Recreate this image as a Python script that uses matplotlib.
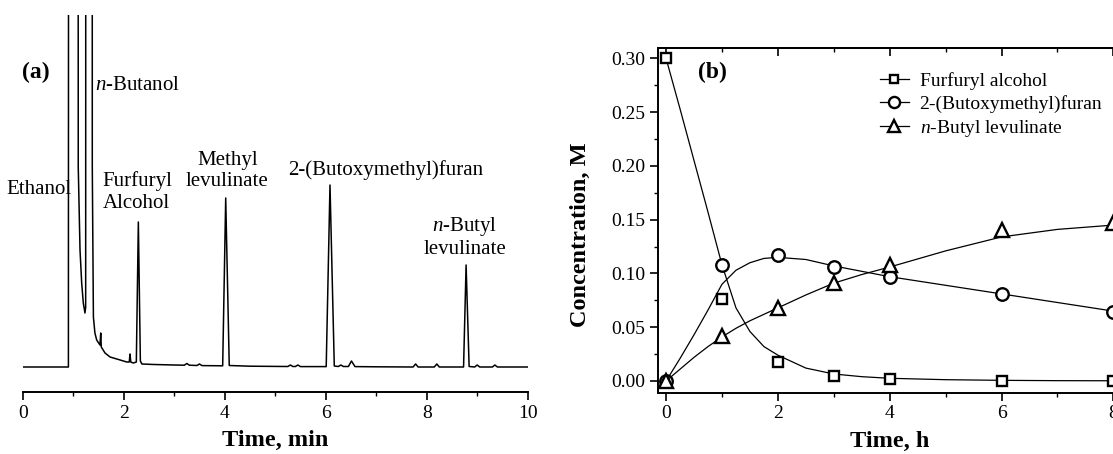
import numpy as np
import matplotlib
matplotlib.use('Agg')
import matplotlib.pyplot as plt
from matplotlib.lines import Line2D

plt.rcParams['font.family'] = ['Liberation Serif', 'Noto Sans CJK SC']
plt.rcParams['mathtext.fontset'] = 'custom'
plt.rcParams['mathtext.rm'] = 'Liberation Serif'
plt.rcParams['mathtext.it'] = 'Liberation Serif:italic'

#chromatogram trace (time in min, signal in arbitrary units)
gc_time = [0.0, 0.905, 0.915, 1.09, 1.10, 1.135, 1.168, 1.20, 1.233, 1.247, 1.255,
           1.372, 1.378, 1.40, 1.43, 1.465, 1.53, 1.545, 1.556, 1.63, 1.73, 1.93,
           2.06, 2.11, 2.125, 2.14, 2.19, 2.25, 2.29, 2.33, 2.36, 2.6, 3.0, 3.2,
           3.25, 3.3, 3.45, 3.5, 3.55, 3.96, 4.02, 4.09, 4.5, 5.25, 5.3, 5.35, 5.4,
           5.45, 5.5, 6.01, 6.085, 6.17, 6.25, 6.3, 6.35, 6.45, 6.51, 6.58, 7.0,
           7.73, 7.78, 7.83, 8.15, 8.2, 8.25, 8.73, 8.78, 8.84, 8.95, 9.0, 9.05,
           9.3, 9.35, 9.4, 10.0]
gc_signal = [0, 0, 2000, 2000, 200, 117, 84, 64, 54, 60, 2000,
             2000, 200, 50, 34, 27, 22, 34, 20, 14, 10, 7,
             5, 5, 13, 5, 4, 5, 145, 6, 3, 2.5, 2, 1.8,
             3.5, 1.8, 1.5, 3, 1.4, 1.2, 169, 1.5, 0.8, 0.5, 2, 0.5, 0.5,
             2, 0.4, 0.4, 182, 1, 0.5, 2, 0.5, 0.5, 6, 0.4, 0.2,
             0, 3, 0, 0, 3, 0, 0, 102, 0.5, 0, 2, 0,
             0, 2, 0, 0]

#peak labels: text, time, signal height of label centre
peak_text = ['Ethanol', '$n$-Butanol', 'Furfuryl\nAlcohol', 'Methyl\nlevulinate',
             '2-(Butoxymethyl)furan', '$n$-Butyl\nlevulinate']
peak_x = [0.33, 1.43, 2.26, 4.05, 7.19, 8.75]
peak_y = [177, 282, 175, 196, 197, 130]

#kinetics data (time in h, concentration in M)
t_exp = [0, 1, 2, 3, 4, 6, 8]
fa_exp = [0.300, 0.0765, 0.0175, 0.0045, 0.0018, 0.0002, 0.0001]
bmf_exp = [0.000, 0.1075, 0.1168, 0.1060, 0.0966, 0.0810, 0.0643]
bl_exp = [0.000, 0.0420, 0.0677, 0.0916, 0.1075, 0.1400, 0.1465]

#fitted curves
t_fit = [0, 0.25, 0.5, 0.75, 1.0, 1.25, 1.5, 1.75, 2.0, 2.5, 3.0, 3.5, 4.0, 5.0, 6.0, 7.0, 8.0]
fa_fit = [0.300, 0.253, 0.205, 0.157, 0.108, 0.068, 0.046, 0.032, 0.024, 0.012, 0.0065,
          0.004, 0.0025, 0.0012, 0.0006, 0.0003, 0.0002]
bmf_fit = [0.0, 0.021, 0.043, 0.066, 0.090, 0.103, 0.110, 0.114, 0.115, 0.113, 0.107,
           0.102, 0.097, 0.089, 0.081, 0.073, 0.065]
bl_fit = [0.0, 0.011, 0.022, 0.032, 0.041, 0.049, 0.056, 0.062, 0.068, 0.080, 0.091,
          0.099, 0.106, 0.121, 0.134, 0.141, 0.145]

series_names = ['Furfuryl alcohol', '2-(Butoxymethyl)furan', '$n$-Butyl levulinate']
series_markers = ['s', 'o', '^']
series_sizes = [7, 9, 10]

fig = plt.figure(figsize=(11.13, 4.54), dpi=100)

#(a) chromatogram
ax1 = fig.add_axes([22.7/1113, 62/454, 505/1113, 377/454])
ax1.plot(gc_time, gc_signal, color='black', lw=1.1)
ax1.set_xlim(0, 10)
ax1.set_ylim(-25, 352)
for s in ['left', 'right', 'top']:
    ax1.spines[s].set_visible(False)
ax1.spines['bottom'].set_linewidth(1.4)
ax1.set_yticks([])
ax1.set_xticks(np.arange(0, 11, 2))
ax1.set_xticks(np.arange(1, 10, 2), minor=True)
ax1.tick_params(axis='x', which='major', direction='out', length=6, width=1.2, labelsize=14, pad=3)
ax1.tick_params(axis='x', which='minor', direction='out', length=3, width=1.0)
ax1.set_xlabel('Time, min', fontsize=17.5, fontweight='bold')
ax1.xaxis.set_label_coords(0.5, -0.10)
ax1.text(0.26, 295, '(a)', fontsize=17, fontweight='bold', ha='center', va='center')
for i, txt in enumerate(peak_text):
    ha = 'left' if i == 1 else 'center'
    ax1.text(peak_x[i], peak_y[i], txt, fontsize=15, ha=ha, va='center',
             multialignment='center', linespacing=1.15)

#(b) kinetics
ax2 = fig.add_axes([657.7/1113, 61.3/454, 472.4/1113, 345/454])
exp_sets = [fa_exp, bmf_exp, bl_exp]
fit_sets = [fa_fit, bmf_fit, bl_fit]
handles = []
for i in range(3):
    ax2.plot(t_fit, fit_sets[i], color='black', lw=0.9)
    ax2.plot(t_exp, exp_sets[i], ls='none', marker=series_markers[i], ms=series_sizes[i],
             mfc='white', mec='black', mew=1.7, clip_on=False)
    handles.append(Line2D([], [], color='black', lw=0.9, marker=series_markers[i],
                          ms=series_sizes[i] - 1, mfc='white', mec='black', mew=1.7))
ax2.set_xlim(-0.15, 8.3)
ax2.set_ylim(-0.0109, 0.31)
ax2.set_xticks([0, 2, 4, 6, 8])
ax2.set_xticks([1, 3, 5, 7], minor=True)
ax2.set_yticks(np.arange(0, 0.31, 0.05))
ax2.set_yticks(np.arange(0.025, 0.30, 0.05), minor=True)
ax2.yaxis.set_major_formatter(matplotlib.ticker.FormatStrFormatter('%.2f'))
ax2.tick_params(which='major', direction='out', length=6, width=1.2, labelsize=14, pad=3)
ax2.tick_params(which='minor', direction='out', length=3, width=1.0)
for s in ax2.spines.values():
    s.set_linewidth(1.4)

#inward ticks along the top edge
top = ax2.secondary_xaxis('top')
top.set_xticks([0, 2, 4, 6, 8])
top.set_xticks([1, 3, 5, 7], minor=True)
top.tick_params(which='major', direction='in', length=6, width=1.2, labeltop=False)
top.tick_params(which='minor', direction='in', length=3, width=1.0)
top.set_xticklabels([])
top.spines['top'].set_linewidth(1.4)

ax2.set_xlabel('Time, h', fontsize=17.5, fontweight='bold')
ax2.xaxis.set_label_coords(0.492, -0.112)
ax2.set_ylabel('Concentration, M', fontsize=17.5, fontweight='bold')
ax2.yaxis.set_label_coords(-0.142, 0.457)
ax2.text(0.83, 0.2874, '(b)', fontsize=17, fontweight='bold', ha='center', va='center')
ax2.legend(handles, series_names, loc='upper left', bbox_to_anchor=(0.47, 0.93),
           frameon=False, fontsize=14, handlelength=1.5, handletextpad=0.55,
           labelspacing=0.26, borderpad=0, borderaxespad=0)

plt.savefig('out.png', dpi=100)
